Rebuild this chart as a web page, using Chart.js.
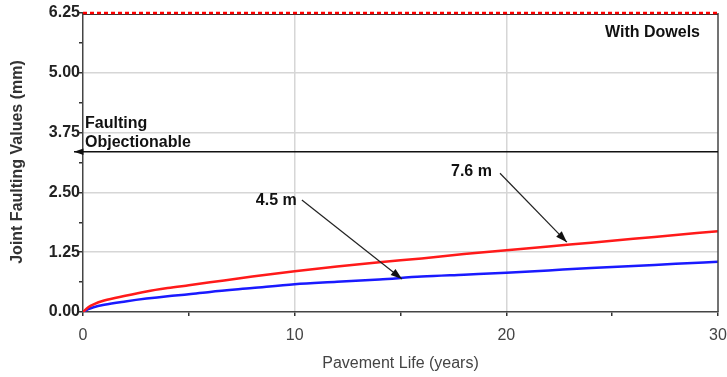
<!DOCTYPE html>
<html>
<head>
<meta charset="utf-8">
<script src="https://cdn.jsdelivr.net/npm/chart.js@4"></script>
<style>
  html, body { margin: 0; padding: 0; background: #fff; }
  #wrap { width: 727px; height: 377px; }
</style>
</head>
<body>
<div id="wrap"><canvas id="faultChart" width="727" height="377"></canvas></div>
<script>
// Pavement life (years)
const years = [0, 0.25, 0.5, 1, 2, 3, 4, 5, 6, 8, 10, 12, 14, 16, 18, 20, 22, 24, 26, 28, 30];
// Joint faulting (mm) for each joint spacing
const fault76 = [0, 0.10, 0.16, 0.24, 0.34, 0.43, 0.50, 0.56, 0.62, 0.74, 0.85, 0.95, 1.04, 1.12, 1.21, 1.29, 1.37, 1.45, 1.53, 1.61, 1.69];
const fault45 = [0, 0.06, 0.10, 0.15, 0.22, 0.28, 0.33, 0.37, 0.42, 0.50, 0.58, 0.63, 0.68, 0.74, 0.78, 0.82, 0.87, 0.92, 0.96, 1.01, 1.05];
const objectionable = 3.35;
const faultMax = 6.25;
const yTickLabels = ['0.00', '1.25', '2.50', '3.75', '5.00', '6.25'];
const xTickLabels = ['0', '10', '20', '30'];

const FONT = '"Liberation Sans", Arial, sans-serif';
const toPts = (ys) => years.map((x, i) => ({ x: x, y: ys[i] }));

function arrow(ctx, x1, y1, x2, y2, head) {
  ctx.beginPath();
  ctx.moveTo(x1, y1);
  ctx.lineTo(x2, y2);
  ctx.stroke();
  const a = Math.atan2(y2 - y1, x2 - x1);
  ctx.beginPath();
  ctx.moveTo(x2, y2);
  ctx.lineTo(x2 - head * Math.cos(a - 0.33), y2 - head * Math.sin(a - 0.33));
  ctx.lineTo(x2 - head * Math.cos(a + 0.33), y2 - head * Math.sin(a + 0.33));
  ctx.closePath();
  ctx.fill();
}

// labels, arrows, frame and axis title
const notes = {
  id: 'notes',
  afterDatasetsDraw(chart) {
    const { ctx, chartArea: a, scales: { x, y } } = chart;
    ctx.save();
    // frame right
    ctx.strokeStyle = '#444';
    ctx.lineWidth = 1.5;
    ctx.beginPath();
    ctx.moveTo(a.right, a.top);
    ctx.lineTo(a.right, a.bottom);
    ctx.stroke();
    // max limit line (red dashed)
    const ym = y.getPixelForValue(faultMax);
    ctx.strokeStyle = '#333';
    ctx.lineWidth = 1;
    ctx.beginPath();
    ctx.moveTo(a.left, ym + 1.5);
    ctx.lineTo(a.right, ym + 1.5);
    ctx.stroke();
    ctx.strokeStyle = '#ff0000';
    ctx.lineWidth = 2.5;
    ctx.setLineDash([4, 3]);
    ctx.beginPath();
    ctx.moveTo(a.left, ym);
    ctx.lineTo(a.right, ym);
    ctx.stroke();
    ctx.setLineDash([]);

    // objectionable line
    ctx.strokeStyle = '#111';
    ctx.fillStyle = '#111';
    ctx.lineWidth = 1.5;
    const yo = y.getPixelForValue(objectionable);
    arrow(ctx, x.getPixelForValue(30), yo, x.getPixelForValue(0) - 9, yo, 10);

    ctx.fillStyle = '#111';
    ctx.font = 'bold 16px ' + FONT;
    ctx.textAlign = 'left';
    ctx.textBaseline = 'alphabetic';
    ctx.fillText('Faulting', a.left + 2, yo - 24);
    ctx.fillText('Objectionable', a.left + 2, yo - 5);

    ctx.textAlign = 'right';
    ctx.fillText('With Dowels', a.right - 18, a.top + 24);

    // series callouts
    ctx.strokeStyle = '#222';
    ctx.fillStyle = '#111';
    ctx.lineWidth = 1.2;
    ctx.textAlign = 'right';
    ctx.textBaseline = 'middle';
    ctx.fillText('7.6 m', x.getPixelForValue(19.32), y.getPixelForValue(2.94));
    arrow(ctx, x.getPixelForValue(19.7), y.getPixelForValue(2.90), x.getPixelForValue(22.86), y.getPixelForValue(1.46), 12);
    ctx.fillText('4.5 m', x.getPixelForValue(10.1), y.getPixelForValue(2.32));
    arrow(ctx, x.getPixelForValue(10.34), y.getPixelForValue(2.34), x.getPixelForValue(15.07), y.getPixelForValue(0.69), 12);

    // y axis title
    ctx.save();
    ctx.translate(18, 162);
    ctx.rotate(-Math.PI / 2);
    ctx.textAlign = 'center';
    ctx.textBaseline = 'middle';
    ctx.fillStyle = '#333';
    ctx.font = 'bold 16px ' + FONT;
    ctx.fillText('Joint Faulting Values (mm)', 0, 0);
    ctx.restore();

    ctx.restore();
  }
};

const config = {
  type: 'scatter',
  data: {
    datasets: [
      {
        label: '7.6 m',
        data: toPts(fault76),
        showLine: true,
        borderColor: '#ff1a1a',
        borderWidth: 2.5,
        pointRadius: 0,
        cubicInterpolationMode: 'monotone'
      },
      {
        label: '4.5 m',
        data: toPts(fault45),
        showLine: true,
        borderColor: '#1a1aff',
        borderWidth: 2.5,
        pointRadius: 0,
        cubicInterpolationMode: 'monotone'
      }
    ]
  },
  options: {
    responsive: false,
    animation: false,
    layout: { padding: { top: 13, right: 9, left: 0, bottom: 0 } },
    plugins: { legend: { display: false }, tooltip: { enabled: false } },
    scales: {
      x: {
        type: 'linear',
        min: 0,
        max: 30,
        afterFit: (s) => { s.height = 65; s.paddingLeft = 0; s.paddingRight = 0; },
        ticks: {
          stepSize: 5,
          padding: 10,
          color: '#444',
          font: { family: FONT, size: 16 },
          callback: (v) => xTickLabels.includes(String(v)) ? String(v) : ''
        },
        grid: {
          color: (c) => (c.tick && c.tick.value % 10 === 0 && c.tick.value > 0 && c.tick.value < 30) ? '#d6d6d6' : 'rgba(0,0,0,0)',
          lineWidth: 1.5,
          tickColor: '#333',
          tickLength: 4
        },
        border: { color: '#444', width: 1.5 },
        title: {
          display: true,
          text: 'Pavement Life (years)',
          color: '#444',
          font: { family: FONT, size: 16 },
          padding: { top: 4 }
        }
      },
      y: {
        min: 0,
        max: faultMax,
        afterFit: (s) => { s.width = 83; s.paddingTop = 0; s.paddingBottom = 0; },
        afterBuildTicks: (s) => {
          s.ticks = [];
          for (let i = 0; i <= 10; i++) s.ticks.push({ value: i * 0.625 });
        },
        ticks: {
          padding: -1,
          color: '#222',
          font: { family: FONT, size: 16, weight: 'bold' },
          callback: (v) => {
            const s = v.toFixed(2);
            return yTickLabels.includes(s) ? s : '';
          }
        },
        grid: {
          color: (c) => {
            const v = c.tick ? c.tick.value : 0;
            const major = Math.abs(v / 1.25 - Math.round(v / 1.25)) < 1e-6;
            return (major && v > 0 && v < faultMax) ? '#d6d6d6' : 'rgba(0,0,0,0)';
          },
          lineWidth: 1.5,
          tickColor: '#333',
          tickLength: 4
        },
        border: { color: '#444', width: 1.5 }
      }
    }
  },
  plugins: [notes]
};

window.addEventListener('load', () => {
  const ctx = document.getElementById('faultChart').getContext('2d');
  new Chart(ctx, config);
});
</script>
</body>
</html>
